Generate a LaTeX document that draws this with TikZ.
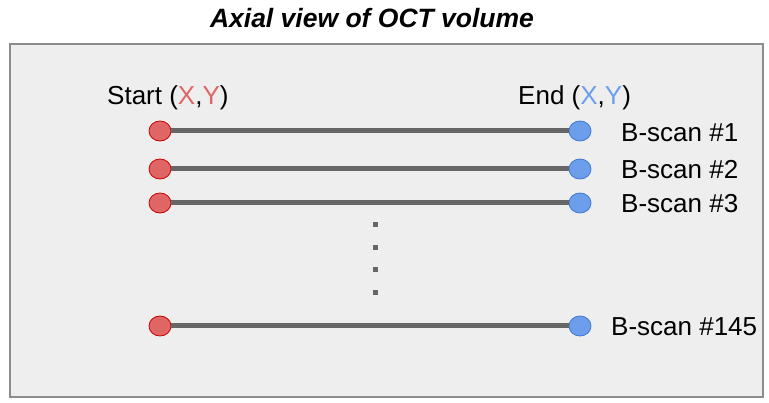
\documentclass[tikz,border=0pt]{standalone}
\usepackage{fontspec}
\setmainfont{Liberation Sans}
\usetikzlibrary{shapes.geometric}
\definecolor{startred}{HTML}{E06666}
\definecolor{startedge}{HTML}{CC0000}
\definecolor{endblue}{HTML}{6D9EEB}
\definecolor{endedge}{HTML}{3C78D8}
\definecolor{panelbg}{HTML}{EEEEEE}
\definecolor{scangray}{HTML}{666666}
\tikzset{
  startpt/.style={ellipse,draw=startedge,fill=startred,thick,minimum width=22pt,minimum height=20pt,inner sep=0pt},
  endpt/.style={ellipse,draw=endedge,fill=endblue,thick,minimum width=22pt,minimum height=20pt,inner sep=0pt},
  scanline/.style={draw=scangray,line width=5pt},
  scanlabel/.style={anchor=west,font=\fontsize{26}{30}\selectfont,inner sep=0pt},
  dotmark/.style={fill=scangray,minimum size=5pt,inner sep=0pt}
}
\begin{document}
\begin{tikzpicture}[x=1pt,y=-1pt]
  \useasboundingbox (0,0) rectangle (769,403);
  \node[font=\fontsize{26.5}{30}\selectfont\bfseries\itshape] (title) at (372,18) {Axial view of OCT volume};
  \draw[draw=gray!90,fill=panelbg,line width=1.2pt] (10,44) rectangle (763,397);

  \node[scanlabel] (startlbl) at (107,98) {Start (\textcolor{startred}{X},\textcolor{startred}{Y})};
  \node[scanlabel] (endlbl) at (518,98) {End (\textcolor{endblue}{X},\textcolor{endblue}{Y})};

  % scan rows
  \node[startpt] (s1) at (160,131) {};
  \node[endpt] (e1) at (580,131) {};
  \node[startpt] (s2) at (160,169) {};
  \node[endpt] (e2) at (580,169) {};
  \node[startpt] (s3) at (160,203) {};
  \node[endpt] (e3) at (580,203) {};
  \node[startpt] (s145) at (160,326) {};
  \node[endpt] (e145) at (580,326) {};

  \draw[scanline] (s1) -- (e1);
  \draw[scanline] (s2) -- (e2);
  \draw[scanline] (s3) -- (e3);
  \draw[scanline] (s145) -- (e145);

  \node[scanlabel] (b1) at (621,133) {B-scan \#1};
  \node[scanlabel] (b2) at (621,170) {B-scan \#2};
  \node[scanlabel] (b3) at (621,204) {B-scan \#3};
  \node[scanlabel] (b145) at (611,327) {B-scan \#145};

  % vertical ellipsis
  \foreach \y [count=\i] in {225,248,270,293}
    \node[dotmark] (dot\i) at (375,\y) {};
\end{tikzpicture}
\end{document}
